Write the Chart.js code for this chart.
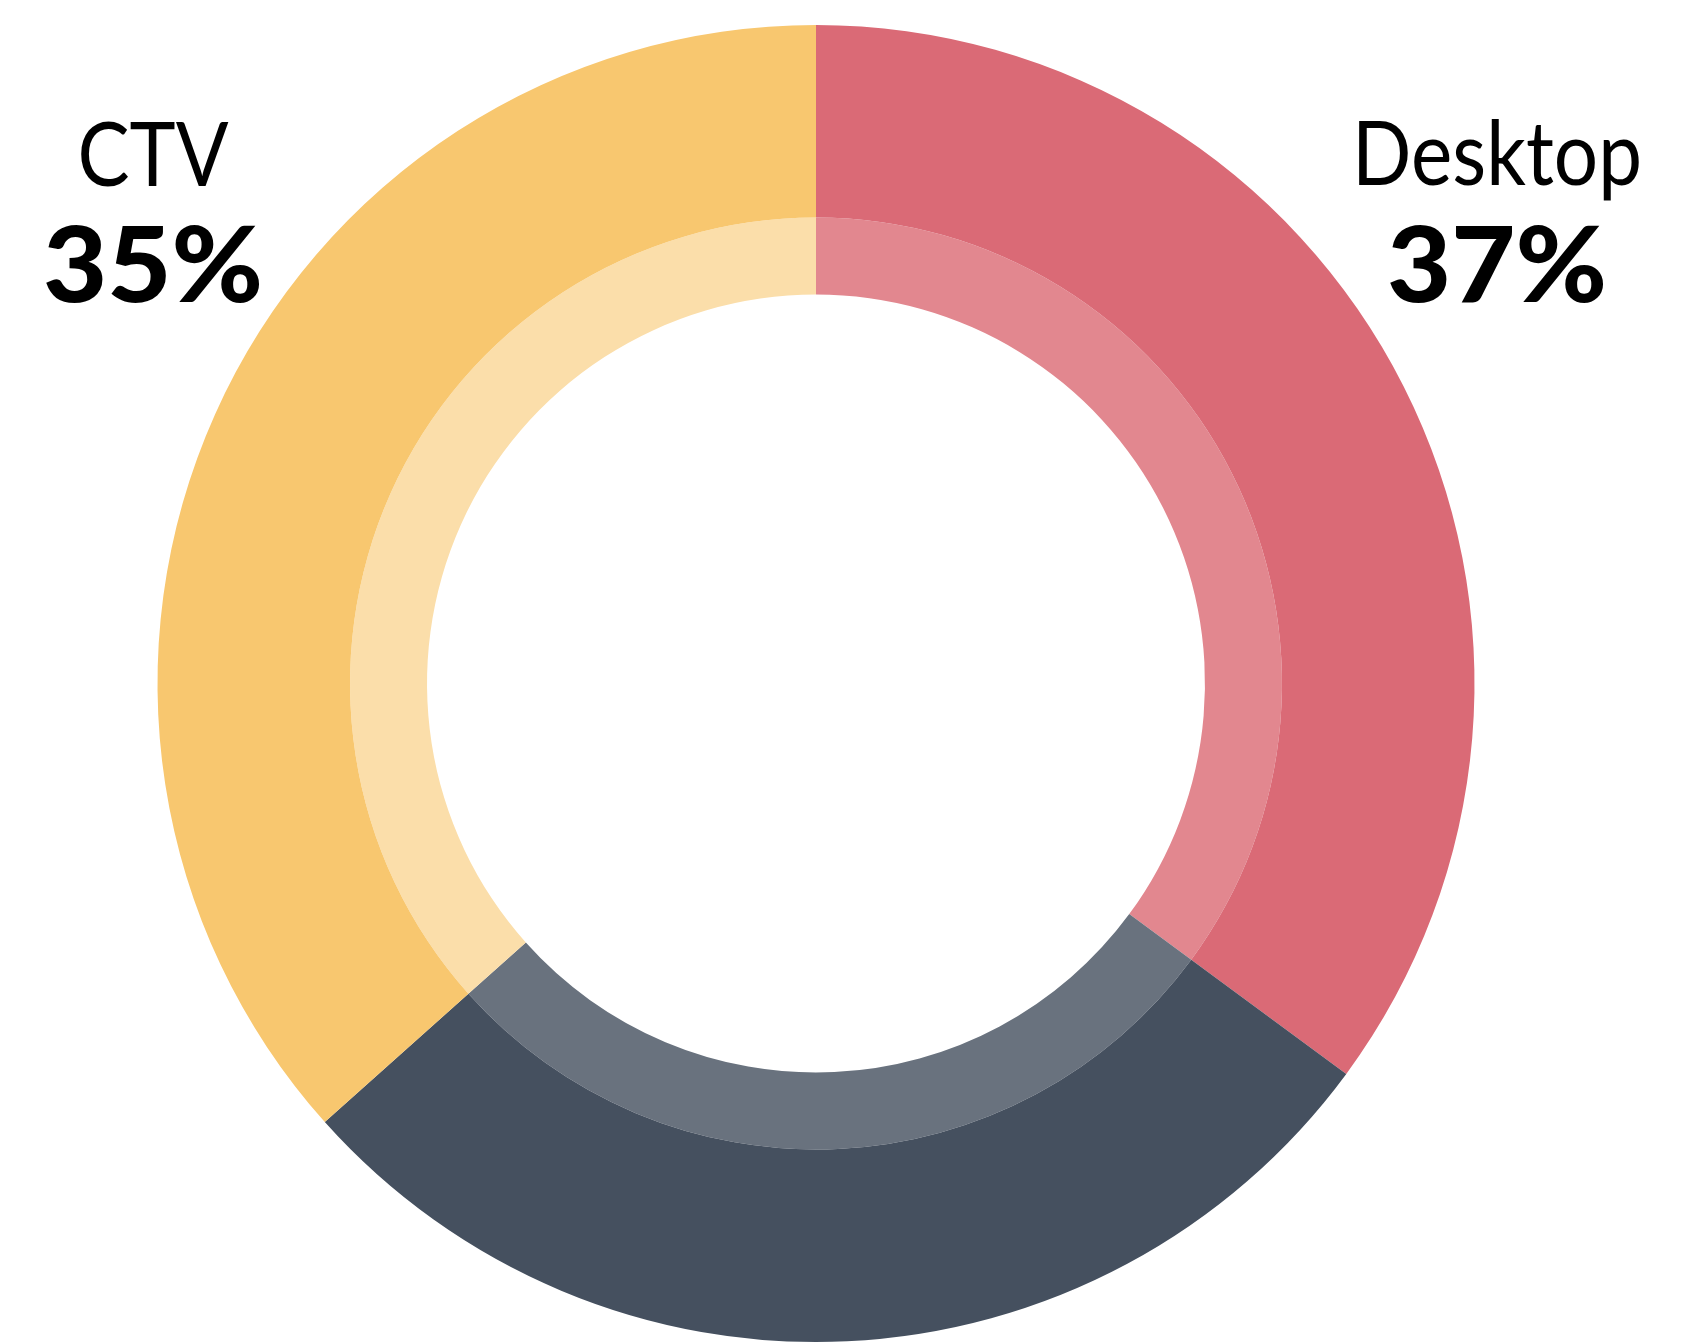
<!DOCTYPE html>
<html>
<head>
<meta charset="utf-8">
<script src="https://cdn.jsdelivr.net/npm/chart.js@4.4.0/dist/chart.umd.min.js"></script>
<style>
    html, body { margin: 0; padding: 0; background: #fff; }
    #wrap { width: 1684px; height: 1343px; }
</style>
</head>
<body>
<div id="wrap"><canvas id="shareChart"></canvas></div>
<script>
// segments clockwise from 12 o'clock
const categories = ['Desktop', 'Other', 'CTV'];
const shareValues = [35.1, 28.3, 36.6];
const outerColors = ['#DA6A76', '#45505F', '#F8C76F'];
const innerColors = ['#E2878F', '#69727E', '#FBDEAA'];

// corner captions as printed on the picture
const captionNames = ['CTV', 'Desktop'];
const captionShares = ['35%', '37%'];

const captionSpots = [
    { x: 153, nameY: 186, nameW: 151, pctY: 302, pctW: 220 },
    { x: 1497, nameY: 185, nameW: 290, pctY: 302, pctW: 220 }
];

function drawFitted(ctx, text, x, y, font, targetW) {
    ctx.save();
    ctx.font = font;
    const w = ctx.measureText(text).width;
    const sx = targetW / w;
    ctx.translate(x, y);
    ctx.scale(sx, 1);
    ctx.textAlign = 'center';
    ctx.textBaseline = 'alphabetic';
    ctx.fillStyle = '#000';
    ctx.fillText(text, 0, 0);
    ctx.restore();
}

const captionPlugin = {
    id: 'captions',
    afterDraw(chart) {
        const ctx = chart.ctx;
        captionSpots.forEach((s, i) => {
            drawFitted(ctx, captionNames[i], s.x, s.nameY, '400 89px Lato', s.nameW);
            drawFitted(ctx, captionShares[i], s.x, s.pctY, '900 105px Lato', s.pctW);
        });
    }
};

function renderShareChart() {
    const ctx = document.getElementById('shareChart').getContext('2d');

    new Chart(ctx, {
        type: 'doughnut',
        data: {
            labels: categories,
            datasets: [{
                data: shareValues,
                backgroundColor: outerColors,
                borderWidth: 0,
                weight: 192.5
            }, {
                data: shareValues,
                backgroundColor: innerColors,
                borderWidth: 0,
                weight: 77
            }]
        },
        options: {
            responsive: true,
            maintainAspectRatio: false,
            animation: false,
            cutout: '59.07%',
            layout: {
                padding: { left: 0, right: 52, top: 25, bottom: 1 }
            },
            plugins: {
                legend: { display: false },
                tooltip: { enabled: false }
            }
        },
        plugins: [captionPlugin]
    });
}

document.addEventListener('DOMContentLoaded', renderShareChart);
</script>
</body>
</html>
